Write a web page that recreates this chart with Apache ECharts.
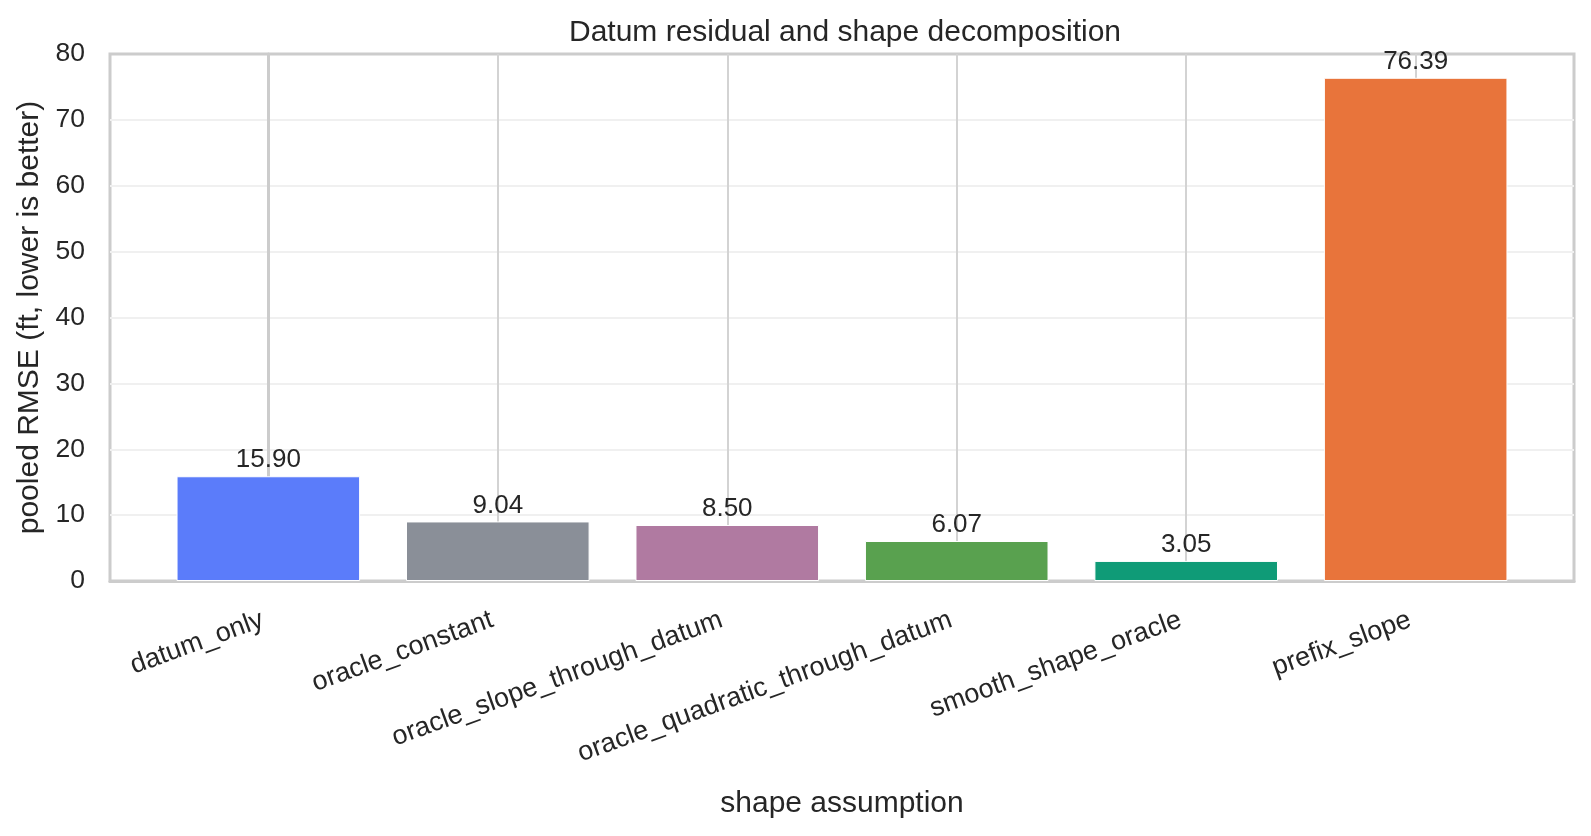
<!DOCTYPE html>
<html>
<head>
<meta charset="utf-8">
<script src="https://cdn.jsdelivr.net/npm/echarts@6/dist/echarts.min.js"></script>
<style>
    html, body { margin: 0; padding: 0; background: #ffffff; }
    #chart { width: 1591px; height: 836px; }
</style>
</head>
<body>
<div id="chart"></div>
<script>
    // shape assumptions and their pooled RMSE (ft)
    const categories = ['datum_only', 'oracle_constant', 'oracle_slope_through_datum',
        'oracle_quadratic_through_datum', 'smooth_shape_oracle', 'prefix_slope'];
    const rmse = [15.90, 9.04, 8.50, 6.07, 3.05, 76.39];
    const yTicks = [0, 10, 20, 30, 40, 50, 60, 70, 80];

    const barColors = ['#5b7cfa', '#8a8f98', '#b07aa1', '#59a14f', '#0f9b77', '#e8743b'];
    const textColor = '#262626';
    const font = '"Liberation Sans", Arial, sans-serif';

    const chart = echarts.init(document.getElementById('chart'));
    const positions = categories.map((c, i) => i);

    chart.setOption({
        animation: false,
        textStyle: { fontFamily: font, color: textColor },
        title: {
            text: 'Datum residual and shape decomposition',
            left: 840, top: 13, textAlign: 'center',
            textStyle: { fontSize: 30, fontWeight: 'normal', color: textColor, fontFamily: font }
        },
        grid: {
            left: 110, top: 54, right: 17, bottom: 255,
            show: true, borderColor: '#cccccc', borderWidth: 3, backgroundColor: '#ffffff'
        },
        xAxis: {
            type: 'value',
            min: -0.69, max: 5.69,
            name: 'shape assumption',
            nameLocation: 'middle',
            nameGap: 208,
            nameTextStyle: { fontSize: 30, color: textColor, fontFamily: font },
            axisLine: { show: true, onZero: false, lineStyle: { color: '#cccccc', width: 3 } },
            axisTick: { show: false, customValues: positions },
            axisLabel: {
                customValues: positions,
                formatter: v => categories[Math.round(v)],
                rotate: 20, margin: 36, padding: [0, 6, 0, 0],
                fontSize: 27, color: textColor, fontFamily: font
            },
            splitLine: { show: true, lineStyle: { color: '#d3d3d3', width: 2 } }
        },
        yAxis: {
            type: 'value',
            min: yTicks[0], max: yTicks[yTicks.length - 1], interval: 10,
            name: 'pooled RMSE (ft, lower is better)',
            nameLocation: 'middle',
            nameGap: 63,
            nameTextStyle: { fontSize: 30, color: textColor, fontFamily: font },
            axisLine: { show: true, lineStyle: { color: '#cccccc', width: 3 } },
            axisTick: { show: false },
            axisLabel: { margin: 25, fontSize: 26.5, color: textColor, fontFamily: font },
            splitLine: {
                show: true, showMinLine: false, showMaxLine: false,
                lineStyle: { color: '#f0f0f0', width: 2 }
            }
        },
        series: [{
            type: 'bar',
            barWidth: '80%',
            data: rmse.map((v, i) => ({
                value: [i, v],
                itemStyle: { color: barColors[i] }
            })),
            itemStyle: { borderColor: '#ffffff', borderWidth: 1 },
            label: {
                show: true, position: 'top', distance: 3,
                formatter: p => p.value[1].toFixed(2),
                fontSize: 26, color: textColor, fontFamily: font
            }
        }]
    });
</script>
</body>
</html>
